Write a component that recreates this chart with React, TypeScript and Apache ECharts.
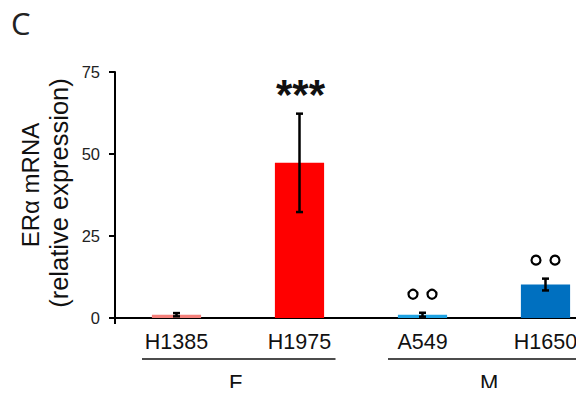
import React, { useEffect, useRef } from "react";
import * as echarts from "echarts";

const categories = ["H1385", "H1975", "A549", "H1650"];
const means = [1.0, 47.3, 1.0, 10.2];
const errors = [0.5, 15.0, 0.6, 1.8];
const barColors = ["#f4817c", "#ff0000", "#1ea2e2", "#0070c0"];
const annotations = ["", "***", "oo", "oo"];
const groupNames = ["F", "M"];
const groupStart = [0, 2];
const groupEnd = [1, 3];
const yTicks = { min: 0, max: 75, interval: 25 };
const yTitle = ["ERα mRNA", "(relative expression)"];
const panelLabel = "C";

const FONT = "Liberation Sans";

export default function App() {
  const ref = useRef<HTMLDivElement>(null);
  useEffect(() => {
    if (!ref.current) return;
    const chart = echarts.init(ref.current, null, { renderer: "svg" });
    const option: any = {
      animation: false,
      grid: {
        left: 115,
        top: 72,
        height: 246,
        width: 492,
        containLabel: false,
        outerBoundsMode: "none",
      },
      xAxis: {
        type: "category",
        data: categories,
        boundaryGap: true,
        axisLine: { lineStyle: { color: "#000", width: 2 } },
        axisTick: {
          show: true,
          interval: (i: number) => i === 0,
          length: 6,
          lineStyle: { color: "#000", width: 2 },
        },
        axisLabel: { fontSize: 21.5, color: "#111", fontFamily: FONT, margin: 13 },
      },
      yAxis: {
        type: "value",
        min: yTicks.min,
        max: yTicks.max,
        interval: yTicks.interval,
        splitLine: { show: false },
        axisLine: { show: true, lineStyle: { color: "#000", width: 2 } },
        axisTick: { show: true, length: 6, lineStyle: { color: "#000", width: 2 } },
        axisLabel: { fontSize: 16.5, color: "#222", fontFamily: FONT, margin: 15 },
      },
      graphic: [
        {
          type: "text",
          left: 11,
          top: 7,
          style: { text: panelLabel, fontSize: 31, fontFamily: "Open Sans", fill: "#222" },
        },
        {
          type: "text",
          x: 30,
          y: 185,
          rotation: Math.PI / 2,
          style: {
            text: yTitle[0],
            fontSize: 24,
            fontFamily: FONT,
            fill: "#111",
            align: "center",
            verticalAlign: "middle",
          },
        },
        {
          type: "text",
          x: 59,
          y: 193,
          rotation: Math.PI / 2,
          style: {
            text: yTitle[1],
            fontSize: 25.5,
            fontFamily: FONT,
            fill: "#111",
            align: "center",
            verticalAlign: "middle",
          },
        },
        {
          type: "text",
          left: 229,
          top: 371,
          style: { text: groupNames[0], fontSize: 22, fontFamily: FONT, fill: "#111" },
        },
        {
          type: "text",
          left: 480,
          top: 371,
          style: { text: groupNames[1], fontSize: 22, fontFamily: FONT, fill: "#111" },
        },
      ],
      series: [
        {
          type: "bar",
          barWidth: "40%",
          data: means.map((v, i) => ({ value: v, itemStyle: { color: barColors[i] } })),
        },
        {
          type: "custom",
          clip: false,
          data: means.map((m, i) => [i, m, errors[i]]),
          renderItem: (params: any, api: any) => {
            const i = api.value(0);
            const m = api.value(1);
            const e = api.value(2);
            const top = api.coord([i, m + e]);
            const bot = api.coord([i, m - e]);
            const x = top[0];
            const h = 3.5;
            const st = { stroke: "#000", lineWidth: 2.5 };
            const children: any[] = [
              { type: "line", shape: { x1: x, y1: top[1], x2: x, y2: bot[1] }, style: st },
              { type: "line", shape: { x1: x - h, y1: top[1], x2: x + h, y2: top[1] }, style: st },
              { type: "line", shape: { x1: x - h, y1: bot[1], x2: x + h, y2: bot[1] }, style: st },
            ];
            const ann = annotations[params.dataIndex];
            if (ann === "***") {
              children.push({
                type: "text",
                x: x + 1,
                y: top[1] - 19,
                style: {
                  text: ann,
                  fontSize: 42,
                  fontFamily: FONT,
                  fontWeight: "bold",
                  fill: "#111",
                  align: "center",
                  verticalAlign: "middle",
                },
              });
            } else if (ann === "oo") {
              [-9.5, 9.5].forEach((dx) => {
                children.push({
                  type: "circle",
                  shape: { cx: x + dx, cy: top[1] - 18.5, r: 4.5 },
                  style: { fill: "none", stroke: "#000", lineWidth: 2.2 },
                });
              });
            }
            return { type: "group", children };
          },
          z: 5,
        },
        {
          type: "custom",
          clip: false,
          data: groupNames.map((_, g) => [groupStart[g], groupEnd[g]]),
          renderItem: (params: any, api: any) => {
            const a = api.coord([api.value(0), 0]);
            const b = api.coord([api.value(1), 0]);
            const y = a[1];
            return {
              type: "line",
              shape: { x1: a[0] - 34.5, y1: y + 41, x2: b[0] + 36, y2: y + 41 },
              style: { stroke: "#111", lineWidth: 1.5 },
            };
          },
        },
      ],
    };
    chart.setOption(option);
    return () => chart.dispose();
  }, []);
  return <div ref={ref} style={{ width: 584, height: 396, margin: -8 }} />;
}
